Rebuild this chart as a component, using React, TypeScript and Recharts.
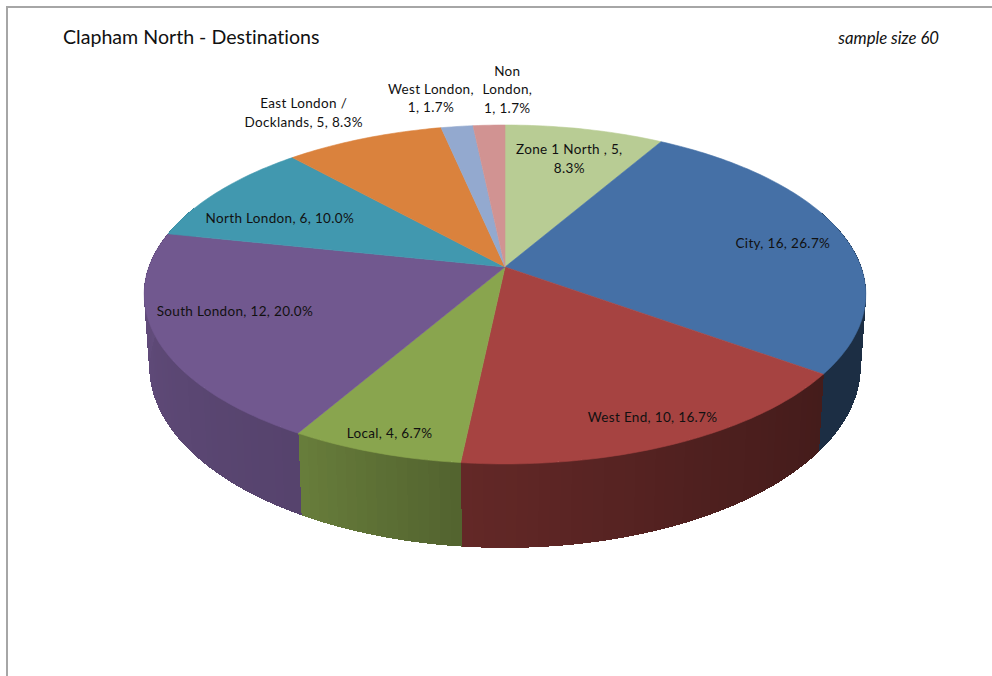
import React from "react";
import { PieChart, Pie } from "recharts";

// Chart text and values
const chartTitle = "Clapham North - Destinations";
const sampleNote = "sample size 60";
const categories = ["Zone 1 North ,", "City,", "West End,", "Local,", "South London,", "North London,", "East London / Docklands,", "West London,", "Non London,"];
const trips = [5, 16, 10, 4, 12, 6, 5, 1, 1];
const sliceColors = ["#B8CC94", "#4570A6", "#A64341", "#89A54E", "#71588F", "#4198AF", "#DA823D", "#93A9CF", "#D19392"];
// Words per printed line in each data label
const labelWrap = [[5, 1], [4], [4], [3], [4], [4], [3, 3], [2, 2], [1, 1, 2]];

// Projection of the disc and label placement
const CX = 505;
const CY = 267;
const RADIUS = 356;
const SQUASH = 165 / 356;
const TILT = 0.162;
const WALL_DEPTH = 70;
const WALL_SHRINK = 0.985;
const FONT = "Lato, Carlito, sans-serif";
const LABEL_SIZE = 13.5;
const LABEL_SPACING = 0.33;
const LINE_HEIGHT = 18.8;
const labelPlacement = [
  { r: 0.77, dx: 1, dy: 2 },
  { r: 0.82, dx: 0, dy: 4 },
  { r: 0.87, dx: 3, dy: 0 },
  { r: 0.91, dx: 1, dy: 1 },
  { r: 0.79, dx: 1, dy: -11 },
  { r: 0.78, dx: 1, dy: 13 },
  { r: 1.2, dx: -36, dy: -3 },
  { r: 1.2, dx: -18, dy: -4 },
  { r: 1.2, dx: 21, dy: -11 },
];
// Wall brightness against clockwise angle from twelve o'clock
const wallShade = [[60, 0.4], [126, 0.41], [150, 0.47], [186, 0.6], [210, 0.76], [270, 0.86], [300, 0.86]];

const rows = categories.map((name, i) => ({ name, value: trips[i], fill: sliceColors[i] }));
const total = trips.reduce((a, b) => a + b, 0);

const project = (clockDeg: number, r = 1) => {
  const a = (clockDeg * Math.PI) / 180;
  const u = r * Math.sin(a);
  const v = -r * Math.cos(a);
  const w = 1 - TILT * v;
  return { x: CX + (RADIUS * u) / w, y: CY + (RADIUS * SQUASH * v) / w, w };
};

const floorPoint = (clockDeg: number) => {
  const p = project(clockDeg);
  return { x: CX + (p.x - CX) * WALL_SHRINK, y: p.y + WALL_DEPTH / p.w };
};

const shadeAt = (deg: number) => {
  for (let i = 1; i < wallShade.length; i++) {
    const [a0, s0] = wallShade[i - 1];
    const [a1, s1] = wallShade[i];
    if (deg <= a1) return s0 + ((s1 - s0) * (deg - a0)) / (a1 - a0);
  }
  return wallShade[wallShade.length - 1][1];
};

const darken = (hex: string, f: number) => {
  const n = parseInt(hex.slice(1), 16);
  const c = [(n >> 16) & 255, (n >> 8) & 255, n & 255].map((v) => Math.round(v * f));
  return `rgb(${c[0]},${c[1]},${c[2]})`;
};

const clockSpan = (p: any) => [90 - p.startAngle, 90 - p.endAngle];

const TopFace = (p: any) => {
  const [from, to] = clockSpan(p);
  const steps = Math.max(2, Math.ceil(to - from));
  let d = `M${CX},${CY}`;
  for (let i = 0; i <= steps; i++) {
    const q = project(from + ((to - from) * i) / steps);
    d += `L${q.x.toFixed(1)},${q.y.toFixed(1)}`;
  }
  return <path d={d + "Z"} fill={p.fill} stroke={p.fill} strokeWidth={0.6} />;
};

const WallFace = (p: any) => {
  const [from, to] = clockSpan(p);
  const a0 = Math.max(from, 70);
  const a1 = Math.min(to, 292);
  if (a1 <= a0) return <g />;
  const facets = [];
  for (let a = a0; a < a1; a += 1.5) {
    const b = Math.min(a + 1.5, a1);
    const t0 = project(a);
    const t1 = project(b);
    const f0 = floorPoint(a);
    const f1 = floorPoint(b);
    const color = darken(p.fill, shadeAt((a + b) / 2));
    facets.push(
      <path
        key={a}
        d={`M${t0.x},${t0.y}L${t1.x},${t1.y}L${f1.x},${f1.y}L${f0.x},${f0.y}Z`}
        fill={color}
        stroke={color}
        strokeWidth={1}
        shapeRendering="crispEdges"
      />
    );
  }
  return <g>{facets}</g>;
};

const labelLines = (i: number) => {
  const pct = ((trips[i] / total) * 100).toFixed(1) + "%";
  const words = `${categories[i]} ${trips[i]}, ${pct}`.split(" ");
  let at = 0;
  return labelWrap[i].map((count) => {
    const line = words.slice(at, at + count).join(" ");
    at += count;
    return line;
  });
};

const SliceLabel = (p: any) => {
  const i = p.index;
  const place = labelPlacement[i];
  const c = project(90 - p.midAngle, place.r);
  const lines = labelLines(i);
  const top = c.y + place.dy - ((lines.length - 1) * LINE_HEIGHT) / 2;
  return (
    <text textAnchor="middle" fontFamily={FONT} fontSize={LABEL_SIZE} letterSpacing={LABEL_SPACING} fill="#111">
      {lines.map((line, k) => (
        <tspan key={k} x={c.x + place.dx} y={top + k * LINE_HEIGHT + 4}>
          {line}
        </tspan>
      ))}
    </text>
  );
};

export default function App() {
  return (
    <div style={{ position: "absolute", left: 0, top: 0, width: 992, height: 676, background: "#fff" }}>
      <PieChart width={992} height={676} margin={{ top: 0, right: 0, bottom: 0, left: 0 }}>
        <line x1={7} y1={7} x2={992} y2={7} stroke="#a6a6a6" strokeWidth={2} />
        <line x1={7} y1={6} x2={7} y2={676} stroke="#a6a6a6" strokeWidth={2} />
        <text x={63} y={44} fontFamily={FONT} fontSize={19.6} fill="#111" style={{ fontVariantLigatures: "none" }}>{chartTitle}</text>
        <text x={939} y={44} textAnchor="end" fontFamily={FONT} fontStyle="italic" fontSize={16.7} fill="#111">{sampleNote}</text>
        <Pie
          data={rows}
          dataKey="value"
          nameKey="name"
          cx={CX}
          cy={CY}
          outerRadius={RADIUS}
          startAngle={90}
          endAngle={-270}
          stroke="none"
          shape={WallFace}
          isAnimationActive={false}
        />
        <Pie
          data={rows}
          dataKey="value"
          nameKey="name"
          cx={CX}
          cy={CY}
          outerRadius={RADIUS}
          startAngle={90}
          endAngle={-270}
          stroke="none"
          shape={TopFace}
          label={SliceLabel}
          labelLine={false}
          isAnimationActive={false}
        />
      </PieChart>
    </div>
  );
}
